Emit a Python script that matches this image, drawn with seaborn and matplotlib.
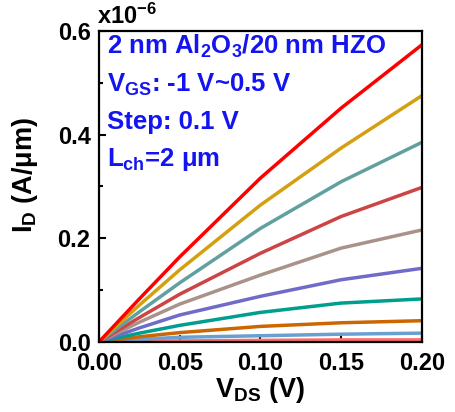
import numpy as np
import pandas as pd
import matplotlib
matplotlib.use("Agg")
import matplotlib.pyplot as plt
import seaborn as sns
from matplotlib.ticker import MultipleLocator

# -------------------- DATA (I_D in units of 1e-6 A/um) --------------------
vds = [0.0, 0.025, 0.05, 0.10, 0.15, 0.20]
id_curves = {
    "pink":      [0, 0.001, 0.002, 0.003, 0.004, 0.004],
    "lightblue": [0, 0.005, 0.009, 0.012, 0.015, 0.017],
    "orange":    [0, 0.010, 0.018, 0.030, 0.037, 0.041],
    "teal":      [0, 0.017, 0.032, 0.057, 0.075, 0.083],
    "purple":    [0, 0.027, 0.052, 0.088, 0.120, 0.142],
    "tan":       [0, 0.038, 0.073, 0.129, 0.181, 0.216],
    "brick":     [0, 0.047, 0.092, 0.171, 0.242, 0.298],
    "cadet":     [0, 0.058, 0.114, 0.219, 0.309, 0.385],
    "gold":      [0, 0.071, 0.139, 0.264, 0.374, 0.475],
    "red":       [0, 0.083, 0.164, 0.316, 0.451, 0.573],
}
colors = ["#FF6B6B", "#6A9FD2", "#CC6600", "#009E8E", "#6F6BC9",
          "#A8928A", "#CC4444", "#62A0A0", "#D4A010", "#FF0000"]

xticks = [0.00, 0.05, 0.10, 0.15, 0.20]
yticks = [0.0, 0.2, 0.4, 0.6]

rows = []
for name, vals in id_curves.items():
    for x, y in zip(vds, vals):
        rows.append({"curve": name, "vds": x, "id": y})
df = pd.DataFrame(rows)

# -------------------- STYLE --------------------
sns.set_style("ticks", {"axes.edgecolor": "black", "text.color": "black",
                        "axes.labelcolor": "black", "xtick.color": "black",
                        "ytick.color": "black"})
plt.rcParams["font.family"] = ["Liberation Sans", "DejaVu Sans"]
plt.rcParams["font.weight"] = "bold"
plt.rcParams["mathtext.fontset"] = "custom"
plt.rcParams["mathtext.rm"] = "Liberation Sans:bold"
plt.rcParams["mathtext.it"] = "Liberation Sans:bold"
plt.rcParams["mathtext.bf"] = "Liberation Sans:bold"
plt.rcParams["mathtext.default"] = "rm"

fig = plt.figure(figsize=(4.56, 4.12), dpi=100)
ax = fig.add_axes([0.217, 0.170, 0.708, 0.755])

sns.lineplot(data=df, x="vds", y="id", hue="curve", palette=colors,
             hue_order=list(id_curves.keys()), linewidth=2.5,
             legend=False, ax=ax)

ax.set_xlim(0, 0.2)
ax.set_ylim(0, 0.6)
ax.set_xticks(xticks)
ax.set_xticklabels([f"{t:.2f}" for t in xticks])
ax.set_yticks(yticks)
ax.set_yticklabels([f"{t:.1f}" for t in yticks])
ax.yaxis.set_minor_locator(MultipleLocator(0.1))
ax.tick_params(which="both", direction="in", width=1.5, labelsize=17,
               color="black", labelcolor="black")
ax.tick_params(which="major", length=5)
ax.tick_params(which="minor", length=3)
ax.tick_params(axis="x", pad=7)
ax.tick_params(axis="y", pad=6)
for s in ax.spines.values():
    s.set_visible(True)
    s.set_linewidth(1.6)
    s.set_color("black")

ax.set_xlabel(r"V$_{\mathregular{DS}}$ (V)", fontsize=19.5, fontweight="bold",
              labelpad=0, color="black")
ax.set_ylabel(r"I$_{\mathregular{D}}$ (A/μm)", fontsize=19.5, fontweight="bold",
              color="black")
ax.yaxis.set_label_coords(-0.183, 0.537)
ax.text(-0.005, 1.008, r"x10$^{-6}$", transform=ax.transAxes, fontsize=17,
        fontweight="bold", ha="left", va="bottom", color="black")

# annotation block
notes = [r"2 nm Al$_2$O$_3$/20 nm HZO", r"V$_{GS}$: -1 V~0.5 V",
         "Step: 0.1 V", r"L$_{ch}$=2 μm"]
for i, t in enumerate(notes):
    ax.text(0.025, 0.949 - i * 0.121, t, transform=ax.transAxes, fontsize=18.5,
            fontweight="bold", color="#1414F0", ha="left", va="center")

fig.savefig("out.png", dpi=100)
